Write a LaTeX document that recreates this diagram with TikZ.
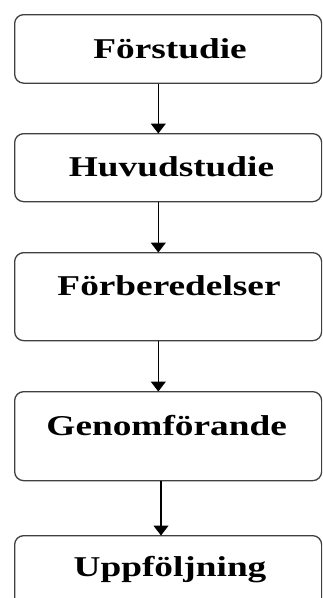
\documentclass[tikz,border=0pt]{standalone}
\usepackage{fontspec}
\setmainfont{Liberation Serif}
\usetikzlibrary{arrows.meta}
\tikzset{
  stage/.style={draw=black!75, line width=1.3pt, rounded corners=9pt, inner sep=0pt, anchor=north west},
  lbl/.style={anchor=base, inner sep=0pt, font=\fontsize{28.7}{30}\selectfont\bfseries},
  arr/.style={line width=1.5pt, -{Triangle[width=15pt,length=10pt]}, shorten >=-0.5pt}
}
\newcommand{\wide}[1]{\scalebox{1.3}[1]{#1}}
\begin{document}
\begin{tikzpicture}[x=1pt,y=1pt]
\useasboundingbox (0,0) rectangle (322,-598);
\fill[white] (0,0) rectangle (322,-598);
\clip (0,0) rectangle (322,-598);
\node[stage, minimum width=307pt, minimum height=68.5pt] (b1) at (14,-14) {};
\node[stage, minimum width=307pt, minimum height=68pt] (b2) at (14,-133) {};
\node[stage, minimum width=307pt, minimum height=88pt] (b3) at (14,-252) {};
\node[stage, minimum width=307pt, minimum height=89pt] (b4) at (14,-391) {};
\node[stage, minimum width=307pt, minimum height=80pt] (b5) at (14,-535) {};
\node[lbl] (t1) at (170,-58.3) {\wide{Förstudie}};
\node[lbl] (t2) at (171.5,-176.7) {\wide{Huvudstudie}};
\node[lbl] (t3) at (169,-295) {\wide{Förberedelser}};
\node[lbl] (t4) at (166.7,-435) {\wide{Genomförande}};
\node[lbl] (t5) at (170,-576.7) {\wide{Uppföljning}};
\coordinate (xa) at (158.3,0);
\coordinate (xb) at (161,0);
\draw[arr] (b1.south -| xa) -- (b2.north -| xa);
\draw[arr] (b2.south -| xa) -- (b3.north -| xa);
\draw[arr] (b3.south -| xa) -- (b4.north -| xa);
\draw[arr] (b4.south -| xb) -- (b5.north -| xb);
\end{tikzpicture}
\end{document}
